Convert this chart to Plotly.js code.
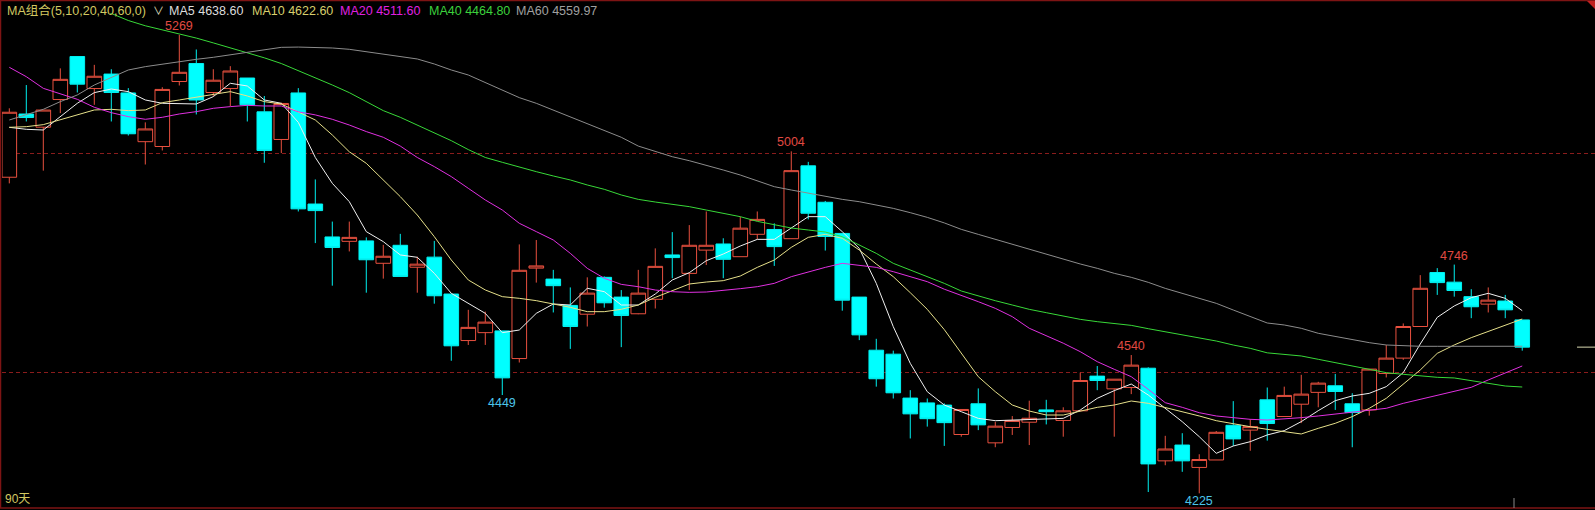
<!DOCTYPE html>
<html>
<head>
<meta charset="utf-8">
<script src="https://cdn.plot.ly/plotly-3.0.1.min.js"></script>
<style>
html,body{margin:0;padding:0;background:#000;overflow:hidden;}
#chart{width:1595px;height:510px;}
</style>
</head>
<body>
<div id="chart"></div>
<script>
// ---- data ----
const openP  = [4945,5089,5059,5122,5220,5147,5180,5137,5026,5015,5163,5204,5138,5147,5171,5094,5031,5137,4884,4809,
                4799,4800,4749,4790,4740,4763,4679,4573,4591,4595,4532,4738,4713,4653,4633,4717,4672,4634,4667,4768,
                4726,4779,4793,4764,4815,4826,4805,4971,4888,4817,4672,4551,4542,4442,4431,4426,4359,4429,4340,4375,
                4387,4415,4391,4413,4492,4463,4466,4510,4299,4335,4284,4301,4380,4369,4438,4400,4428,4455,4470,4429,
                4415,4498,4533,4605,4728,4706,4673,4656,4663,4620];
const highP  = [5102,5155,5098,5193,5221,5201,5191,5148,5070,5150,5269,5236,5191,5198,5171,5130,5115,5148,4940,4844,
                4844,4808,4791,4816,4764,4800,4679,4643,4639,4595,4792,4802,4734,4694,4717,4719,4688,4734,4783,4820,
                4836,4867,4806,4855,4867,4840,5004,4980,4891,4817,4672,4577,4550,4460,4441,4430,4416,4464,4388,4401,
                4436,4438,4421,4500,4515,4485,4540,4512,4356,4362,4314,4367,4435,4394,4466,4468,4495,4479,4497,4453,
                4508,4563,4612,4722,4738,4746,4690,4694,4677,4620];
const lowP   = [4931,5072,4960,5091,5138,5110,5072,5040,4974,5006,5154,5088,5130,5107,5072,4978,5000,4867,4795,4698,
                4776,4682,4714,4719,4682,4657,4527,4563,4563,4449,4523,4705,4637,4554,4605,4648,4558,4633,4646,4715,
                4688,4745,4715,4764,4804,4743,4805,4849,4778,4641,4574,4468,4441,4350,4377,4333,4354,4369,4330,4358,
                4335,4382,4354,4413,4460,4354,4451,4228,4289,4274,4225,4301,4333,4322,4345,4400,4385,4421,4415,4330,
                4402,4489,4529,4605,4677,4673,4624,4637,4624,4550];
const closeP = [5093,5081,5098,5168,5157,5175,5138,5044,5055,5145,5184,5121,5166,5187,5110,5006,5113,4873,4869,4785,
                4808,4757,4765,4719,4747,4675,4561,4603,4615,4488,4733,4743,4698,4605,4681,4659,4630,4681,4742,4762,
                4790,4790,4758,4829,4849,4787,4960,4863,4810,4665,4586,4486,4454,4406,4395,4386,4416,4381,4378,4391,
                4396,4411,4413,4482,4482,4485,4517,4292,4326,4299,4302,4364,4349,4377,4384,4448,4451,4476,4457,4409,
                4508,4533,4605,4692,4705,4687,4650,4665,4643,4558];

const ma5  = [5058.7,5054.2,5052.6,5083,5113.4,5137.7,5146,5140,5121,5113.4,5113.4,5111.9,5128.6,5159,5152.9,5121,5113.4,5070,4990,4931.2,
              4889.4,4821.1,4798.3,4768,4762.6,4726.2,4680.6,4657.8,4635,4591,4597,4635,4656.3,4654,4692,4684.4,4654,4653.9,4679,4710.9,
              4727.6,4754.9,4770.1,4788.3,4803.5,4803.5,4828.6,4855.2,4855.2,4821,4783,4703.3,4604.6,4521.1,4456.5,4426.2,4411,4395.8,4390.5,4392,
              4392,4393.5,4395.8,4414.8,4441.4,4458.9,4474,4449,4418.6,4388.2,4354.1,4316.1,4332.8,4342.7,4358,4367.8,4388.3,4413.3,4436.1,4446.8,
              4452.8,4468,4499.9,4565.2,4625.9,4651.8,4670.7,4680.6,4669.2,4641.1];
const ma10 = [5058.7,5060.2,5064.8,5075.4,5086.8,5098.2,5099.7,5096.7,5098.2,5114.9,5121,5127,5134.6,5140,5130.1,5117.2,5111.9,5094.4,5075.4,5041.2,
              5003,4976.7,4938.8,4900.8,4859,4809.7,4756.5,4711,4688.2,4673,4669.2,4663.9,4656.3,4648.7,4638.8,4638.8,4644.2,4654,4671.4,4686.6,
              4701.8,4706.3,4709.4,4720,4739.7,4756.4,4785.3,4808.1,4814.9,4805.8,4779.2,4747.3,4718.5,4682,4644.1,4598,4543.9,4490.7,4456.6,4426.2,
              4412.5,4403.4,4403.4,4412.5,4420.9,4426.2,4435.3,4430,4420.9,4411,4401.2,4390.5,4382.9,4376.8,4370.8,4365.5,4360.2,4373.1,4384.5,4399.7,
              4418.7,4441.4,4474.1,4506,4543.9,4563,4579.6,4593.3,4607,4622.1];
const ma20 = [5195.4,5174.1,5147.5,5134.6,5122.5,5104.3,5092.1,5083,5077,5081.5,5089.1,5094.4,5102,5105.8,5108.8,5107.3,5107.3,5094,5087,5077,
              5064,5049,5036,5016,4990,4969.2,4946.4,4919.8,4893.2,4870.4,4840.1,4821.1,4802.1,4771.7,4737.5,4714.8,4701,4695.7,4688.1,4684.3,
              4682.8,4683.6,4686.6,4691.2,4695.7,4703.3,4718.5,4729.9,4739.7,4748.9,4745.1,4739.7,4729.9,4718.5,4707.1,4690,4676.7,4661.6,4646.4,4627.4,
              4601,4584,4567,4547.7,4524.9,4507.5,4490.7,4461.9,4431.5,4420.9,4408.7,4401.2,4396.6,4393.6,4392,4394.4,4397.4,4401.2,4405.8,4409.5,
              4413.3,4418.7,4430,4439.2,4448.3,4458.9,4466.5,4483.2,4498.4,4515.1];
const ma40 = [5410,5395,5380,5365,5350,5335,5318,5302,5290,5281,5272,5262,5251,5240,5229,5217,5204,5188,5172.6,5155.1,
              5137.7,5117.2,5096.7,5081.5,5064,5045,5028.3,5008,4990,4979,4967.6,4957.7,4947.9,4938.8,4927.4,4917.5,4904.6,4894.6,4888.6,4884,
              4878,4870.3,4862.8,4855.2,4844.5,4836.2,4829.3,4824.8,4820.2,4809.6,4790.6,4771.6,4748.9,4733.7,4718.5,4703.3,4685.9,4674.5,4663.8,4654,
              4644.1,4636.5,4628.9,4621.3,4616,4612.2,4607.6,4600,4593,4587,4580.3,4572,4562.8,4555.3,4545,4541.7,4537.9,4530.3,4522.7,4515.1,
              4507.5,4499.9,4496.1,4492.3,4489.3,4487.8,4481.7,4474.1,4469.5,4467.2];
const ma60 = [5075.4,5086.8,5099.7,5117.2,5132.4,5155.1,5172.6,5189.3,5196.9,5203,5207.5,5213.6,5218.2,5223.5,5229.5,5234.9,5240.9,5241.5,5241,5239.4,
              5236.4,5231.1,5225.8,5221.2,5214.4,5203,5189.3,5177.9,5160.4,5143.7,5126.3,5113.4,5098.2,5083,5067.8,5052.6,5036,5016,5003.2,4991.8,
              4982.7,4972.8,4961.5,4950.1,4936.4,4923.5,4915.9,4908.3,4900.7,4894.6,4889.3,4881.7,4874.1,4864.3,4853.6,4841,4826.3,4814.9,4803.5,4792.2,
              4781.5,4770.1,4758.7,4747.4,4737.5,4726.1,4717,4705.6,4691.9,4680.5,4669.1,4657.8,4642.6,4627.4,4613,4608.5,4600.9,4589.5,4581.9,4574.3,
              4568.2,4562.9,4560.6,4559.9,4559.9,4559.9,4560,4560,4560,4560];

const maPeriods = [5, 10, 20, 40, 60];
const maLast    = ["4638.60", "4622.60", "4511.60", "4464.80", "4559.97"];
const gridLevels = [4500, 5000];
const peakIdx   = [10, 46, 66, 85];
const troughIdx = [29, 70];
const spanLabel = "90天";

// ---- drawing ----
const days = openP.map((_, i) => i);
const FONT = "Liberation Sans, Arial, Noto Sans CJK SC, sans-serif";
const maColors = ["#f0f0f0", "#e6e08a", "#e030e0", "#38d838", "#8c8c8c"];
const legendColors = ["#dcdcdc", "#d8cf6c", "#e020e0", "#3cd03c", "#a0a0a0"];
const maSeries = [ma5, ma10, ma20, ma40, ma60];

const traces = [{
  type: "candlestick",
  x: days, open: openP, high: highP, low: lowP, close: closeP,
  increasing: {line: {color: "#e8503f", width: 1}, fillcolor: "#000000"},
  decreasing: {line: {color: "#00f0f0", width: 1}, fillcolor: "#00ffff"},
  whiskerwidth: 0,
  hoverinfo: "skip",
  showlegend: false
}];
maSeries.forEach((s, k) => {
  traces.push({
    type: "scatter", mode: "lines", x: days, y: s,
    line: {color: maColors[k], width: 1},
    hoverinfo: "skip", showlegend: false
  });
});

const L = 2, T = 13, W = 1595, H = 510, B = 508;
const pw = W - L, ph = B - T;
const px = v => (v - L) / pw;
const py = v => (B - v) / ph;

const annotations = [];
peakIdx.forEach(i => annotations.push({
  x: i, y: highP[i], xref: "x", yref: "y", text: String(highP[i]),
  showarrow: false, yshift: 9, xanchor: "center", yanchor: "middle",
  font: {family: FONT, size: 12.5, color: "#e04a42"}
}));
troughIdx.forEach(i => annotations.push({
  x: i, y: lowP[i], xref: "x", yref: "y", text: String(lowP[i]),
  showarrow: false, yshift: -8, xanchor: "center", yanchor: "middle",
  font: {family: FONT, size: 12.5, color: "#4cc4ea"}
}));

// legend row
const legendY = py(10.5);
annotations.push({
  x: px(5), y: legendY, xref: "paper", yref: "paper", xanchor: "left", yanchor: "middle",
  text: "MA组合(" + maPeriods.join(",") + ",0)", showarrow: false,
  font: {family: FONT, size: 12.5, color: "#d2c862"}
});
annotations.push({
  x: px(151), y: legendY, xref: "paper", yref: "paper", xanchor: "left", yanchor: "middle",
  text: "∨", showarrow: false, font: {family: FONT, size: 11, color: "#e0e0c0"}
});
const legendX = [167, 249.5, 338, 427, 514];
maPeriods.forEach((p, k) => annotations.push({
  x: px(legendX[k]), y: legendY, xref: "paper", yref: "paper", xanchor: "left", yanchor: "middle",
  text: "MA" + p + " " + maLast[k], showarrow: false,
  font: {family: FONT, size: 12.5, color: legendColors[k]}
}));
annotations.push({
  x: px(3), y: py(499), xref: "paper", yref: "paper", xanchor: "left", yanchor: "middle",
  text: spanLabel, showarrow: false,
  font: {family: FONT, size: 12, color: "#d2c862"}
});

const frame = "#7e1414";
const shapes = [
  {type: "line", xref: "paper", yref: "paper", x0: px(0), x1: px(W), y0: py(0.5), y1: py(0.5), line: {color: frame, width: 1.5}},
  {type: "line", xref: "paper", yref: "paper", x0: px(0.5), x1: px(0.5), y0: py(0), y1: py(B), line: {color: frame, width: 1.5}},
  {type: "line", xref: "paper", yref: "paper", x0: px(0), x1: px(W), y0: 0, y1: 0, line: {color: frame, width: 1.5}},
  {type: "path", xref: "paper", yref: "paper",
   path: "M " + px(1587) + " " + py(1) + " L " + px(1595) + " " + py(1) + " L " + px(1595) + " " + py(9) + " Z",
   fillcolor: "#c02020", line: {width: 0}},
  {type: "line", xref: "paper", yref: "y", x0: px(1577), x1: 1, y0: closeP[closeP.length - 1], y1: closeP[closeP.length - 1],
   line: {color: "#d8d8b0", width: 1}},
  {type: "line", xref: "paper", yref: "paper", x0: px(1514), x1: px(1514), y0: 0, y1: py(498),
   line: {color: "#8a8a8a", width: 1}}
];

const layout = {
  width: W, height: H,
  margin: {l: L, r: 0, t: T, b: H - B, pad: 0},
  paper_bgcolor: "#000000", plot_bgcolor: "#000000",
  showlegend: false,
  boxgap: 0.14,
  boxgroupgap: 0,
  xaxis: {range: [-0.43, 93.28], showgrid: false, zeroline: false, showticklabels: false, ticks: "",
          showline: false, rangeslider: {visible: false}, fixedrange: true},
  yaxis: {range: [4191.6, 5319.1], tickvals: gridLevels, showgrid: true, gridcolor: "#8a1c1c",
          griddash: "4px,3px", gridwidth: 1, zeroline: false, showticklabels: false, ticks: "",
          showline: false, fixedrange: true},
  annotations: annotations,
  shapes: shapes
};

Plotly.newPlot("chart", traces, layout, {staticPlot: true, displayModeBar: false});
</script>
</body>
</html>
